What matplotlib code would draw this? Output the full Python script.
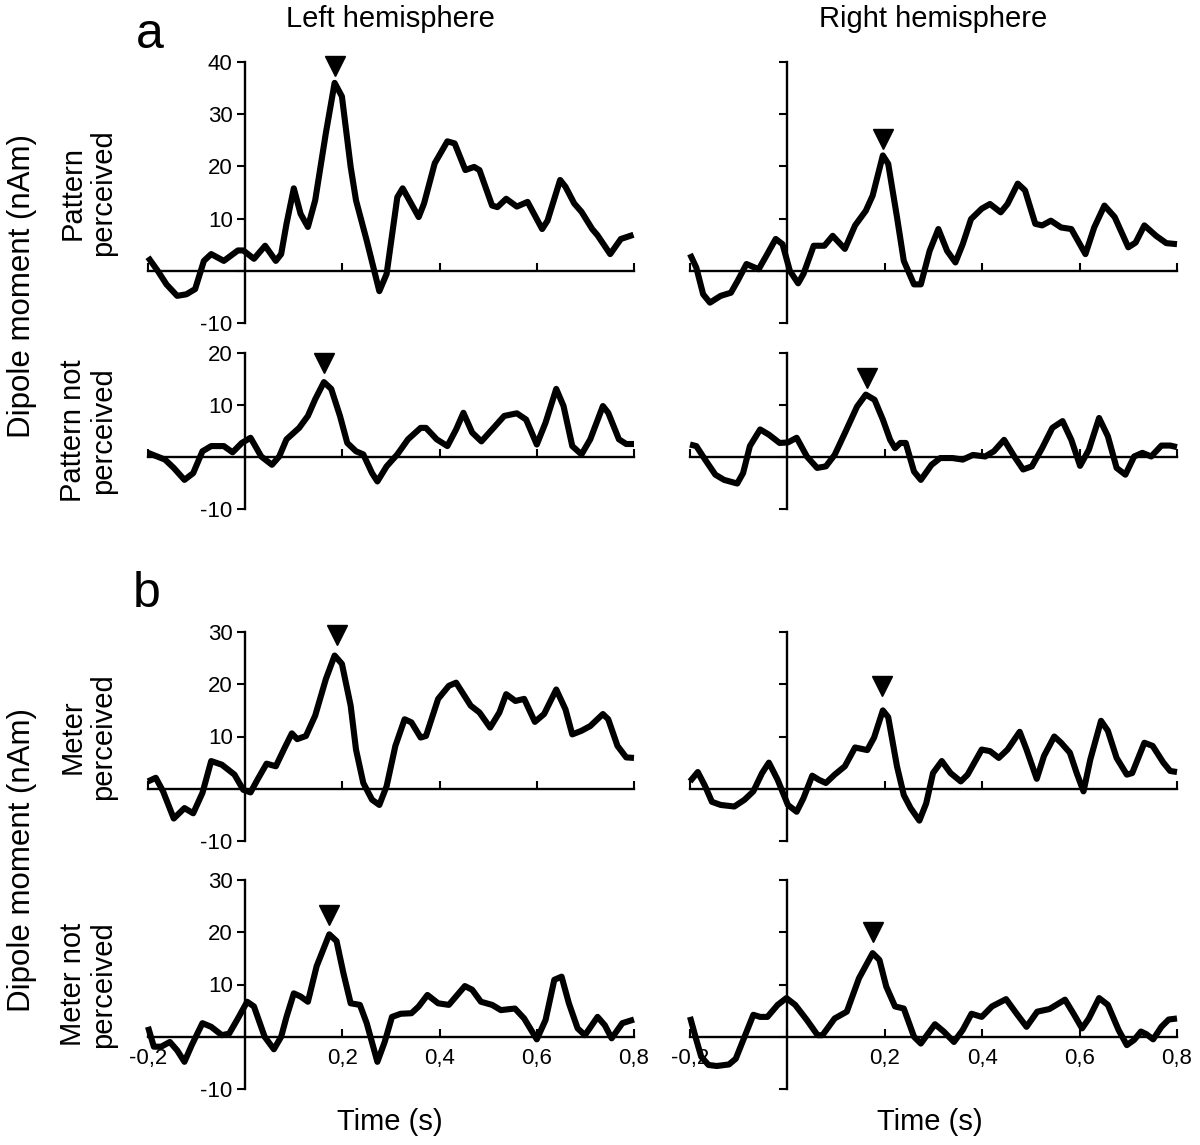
import matplotlib
matplotlib.use('Agg')
import matplotlib.pyplot as plt

plt.rcParams['font.family'] = ['Liberation Sans', 'DejaVu Sans']

# ---------------- data (time in s, dipole moment in nAm) ----------------
pp_left_t = [-0.2, -0.18, -0.162, -0.14, -0.121, -0.103, -0.085, -0.07, -0.044, -0.015, -0.004, 0.018,
             0.041, 0.063, 0.074, 0.085, 0.1, 0.114, 0.129, 0.144, 0.166, 0.184, 0.199, 0.217, 0.228,
             0.25, 0.276, 0.291, 0.313, 0.324, 0.357, 0.368, 0.39, 0.416, 0.431, 0.453, 0.471, 0.482,
             0.508, 0.519, 0.537, 0.559, 0.581, 0.611, 0.622, 0.648, 0.659, 0.677, 0.692, 0.714, 0.725,
             0.751, 0.773, 0.799]
pp_left_v = [2.6, 0.0, -2.6, -4.8, -4.5, -3.5, 1.9, 3.2, 1.9, 3.9, 3.9, 2.3,
             4.8, 1.9, 3.2, 9.0, 15.8, 10.9, 8.4, 13.5, 26.4, 36.0, 33.4, 19.9, 13.5,
             5.8, -3.9, -0.6, 14.1, 15.8, 10.3, 12.9, 20.6, 24.8, 24.4, 19.3, 19.9, 19.3,
             12.5, 12.2, 13.8, 12.3, 13.2, 8.0, 9.6, 17.4, 16.1, 12.9, 11.3, 8.0, 6.8,
             3.2, 6.1, 6.9]

pp_right_t = [-0.2, -0.187, -0.173, -0.159, -0.137, -0.116, -0.102, -0.084, -0.059, -0.045, -0.024,
              -0.01, 0.005, 0.022, 0.033, 0.054, 0.076, 0.093, 0.118, 0.139, 0.161, 0.175, 0.196,
              0.207, 0.225, 0.239, 0.26, 0.274, 0.292, 0.31, 0.328, 0.345, 0.36, 0.377, 0.399, 0.416,
              0.438, 0.452, 0.473, 0.488, 0.509, 0.523, 0.541, 0.562, 0.583, 0.612, 0.63, 0.651,
              0.672, 0.7, 0.715, 0.733, 0.757, 0.778, 0.8]
pp_right_v = [3.2, 0.6, -4.5, -6.1, -4.8, -4.2, -1.9, 1.3, 0.3, 2.6, 6.1,
              5.1, 0.0, -2.4, -0.6, 4.8, 4.8, 6.7, 4.2, 8.7, 11.5, 14.4, 22.1,
              20.5, 10.3, 1.9, -2.6, -2.6, 3.8, 8.0, 3.8, 1.6, 5.1, 9.9, 11.9, 12.8,
              11.2, 12.8, 16.7, 15.4, 9.0, 8.7, 9.6, 8.3, 8.0, 3.2, 8.3, 12.5,
              10.3, 4.5, 5.4, 8.7, 6.7, 5.3, 5.1]

pn_left_t = [-0.2, -0.165, -0.147, -0.125, -0.107, -0.088, -0.07, -0.044, -0.026, -0.007, 0.011,
             0.033, 0.055, 0.07, 0.085, 0.111, 0.129, 0.144, 0.162, 0.177, 0.195, 0.21, 0.228,
             0.243, 0.261, 0.272, 0.291, 0.313, 0.335, 0.361, 0.372, 0.394, 0.416, 0.434, 0.449,
             0.467, 0.486, 0.511, 0.533, 0.559, 0.578, 0.6, 0.618, 0.64, 0.655, 0.673, 0.692, 0.71,
             0.736, 0.747, 0.769, 0.784, 0.8]
pn_left_v = [0.8, -0.5, -2.1, -4.4, -3.1, 1.1, 2.1, 2.1, 0.9, 2.7, 3.7,
             0.1, -1.5, 0.1, 3.4, 5.6, 7.9, 11.1, 14.4, 13.1, 7.9, 2.7, 1.1,
             0.5, -3.1, -4.7, -1.8, 0.5, 3.4, 5.6, 5.6, 3.4, 2.1, 5.3, 8.5,
             4.7, 3.0, 5.6, 7.9, 8.4, 7.2, 2.4, 6.6, 13.1, 9.8, 2.1, 0.5, 3.4,
             9.8, 8.5, 3.4, 2.5, 2.5]

pn_right_t = [-0.2, -0.187, -0.169, -0.148, -0.13, -0.103, -0.091, -0.077, -0.056, -0.038, -0.016,
              0.001, 0.019, 0.04, 0.061, 0.079, 0.097, 0.118, 0.143, 0.161, 0.179, 0.196, 0.211,
              0.221, 0.232, 0.243, 0.26, 0.274, 0.296, 0.314, 0.339, 0.36, 0.381, 0.406, 0.424,
              0.445, 0.466, 0.484, 0.502, 0.523, 0.544, 0.565, 0.583, 0.601, 0.619, 0.64, 0.658,
              0.676, 0.694, 0.712, 0.729, 0.747, 0.768, 0.786, 0.8]
pn_right_v = [2.4, 2.1, -0.5, -3.4, -4.4, -5.1, -3.1, 2.1, 5.3, 4.3, 2.7,
              2.8, 3.7, 0.1, -2.1, -1.8, 0.4, 4.6, 9.7, 12.0, 11.0, 7.2, 3.3,
              1.7, 2.7, 2.7, -2.8, -4.4, -1.5, -0.2, -0.2, -0.5, 0.4, 0.1, 1.1,
              3.3, 0.1, -2.4, -1.8, 1.7, 5.6, 6.9, 3.3, -1.7, 1.4, 7.5, 4.0,
              -2.1, -3.4, 0.1, 0.8, 0.1, 2.2, 2.2, 1.9]

mp_left_t = [-0.2, -0.184, -0.169, -0.147, -0.125, -0.107, -0.088, -0.07, -0.048, -0.022, -0.004,
             0.011, 0.025, 0.044, 0.063, 0.081, 0.096, 0.107, 0.125, 0.144, 0.166, 0.184, 0.199,
             0.217, 0.228, 0.243, 0.261, 0.276, 0.291, 0.309, 0.328, 0.342, 0.361, 0.372, 0.397,
             0.419, 0.434, 0.464, 0.482, 0.504, 0.523, 0.537, 0.556, 0.574, 0.596, 0.615, 0.64,
             0.659, 0.673, 0.692, 0.71, 0.736, 0.747, 0.766, 0.784, 0.8]
mp_left_v = [1.4, 2.1, -0.5, -5.7, -3.7, -4.7, -0.8, 5.3, 4.6, 2.7, -0.2,
             -0.7, 1.7, 4.8, 4.3, 7.8, 10.6, 9.5, 10.1, 14.0, 21.0, 25.5, 23.9,
             15.9, 7.5, 1.1, -2.1, -3.1, 0.5, 8.2, 13.3, 12.7, 9.8, 10.1, 17.2,
             19.7, 20.3, 15.9, 14.6, 11.7, 14.6, 18.1, 16.8, 17.2, 12.8, 14.3, 19.0,
             15.2, 10.4, 11.1, 12.0, 14.3, 13.3, 8.2, 6.0, 5.9]

mp_right_t = [-0.2, -0.184, -0.169, -0.155, -0.137, -0.109, -0.088, -0.07, -0.052, -0.038, -0.02,
              0.001, 0.019, 0.033, 0.051, 0.065, 0.079, 0.097, 0.118, 0.139, 0.164, 0.178, 0.196,
              0.207, 0.225, 0.239, 0.253, 0.271, 0.285, 0.299, 0.317, 0.335, 0.356, 0.37, 0.399,
              0.416, 0.434, 0.452, 0.477, 0.491, 0.512, 0.527, 0.548, 0.562, 0.58, 0.594, 0.608,
              0.622, 0.644, 0.658, 0.676, 0.697, 0.708, 0.733, 0.75, 0.772, 0.786, 0.8]
mp_right_v = [1.4, 3.2, 0.5, -2.5, -3.1, -3.4, -2.1, -0.5, 3.0, 5.0, 1.7,
              -3.1, -4.4, -1.8, 2.5, 1.7, 1.1, 2.7, 4.3, 7.9, 7.4, 9.8, 15.0,
              13.7, 4.3, -1.2, -3.7, -6.1, -2.8, 3.0, 5.3, 3.0, 1.4, 2.7, 7.5,
              7.2, 5.9, 7.5, 10.9, 7.5, 1.9, 6.3, 10.0, 8.8, 6.9, 3.0, -0.5,
              5.6, 13.0, 11.1, 5.9, 2.7, 3.0, 8.8, 8.2, 5.0, 3.4, 3.2]

mn_left_t = [-0.2, -0.188, -0.173, -0.155, -0.14, -0.125, -0.11, -0.088, -0.07, -0.048, -0.033,
             -0.015, 0.004, 0.018, 0.04, 0.059, 0.074, 0.085, 0.1, 0.114, 0.129, 0.147, 0.173,
             0.188, 0.202, 0.217, 0.236, 0.25, 0.272, 0.287, 0.302, 0.32, 0.342, 0.357, 0.375,
             0.397, 0.419, 0.452, 0.467, 0.485, 0.508, 0.526, 0.555, 0.574, 0.6, 0.618, 0.636,
             0.651, 0.666, 0.684, 0.699, 0.725, 0.74, 0.754, 0.776, 0.8]
mn_left_v = [1.9, -1.9, -1.9, -1.0, -2.6, -4.8, -1.6, 2.6, 1.9, 0.3, 0.6,
             3.5, 6.7, 5.8, 0.0, -2.4, 0.0, 3.8, 8.3, 7.7, 6.7, 13.5, 19.6,
             18.3, 12.2, 6.4, 6.1, 2.6, -4.8, -1.0, 3.8, 4.4, 4.5, 5.8, 8.0,
             6.4, 6.1, 9.7, 9.0, 6.7, 6.1, 5.1, 5.4, 3.5, -0.5, 3.2, 10.9,
             11.5, 6.4, 1.6, 0.3, 3.8, 2.2, -0.3, 2.6, 3.3]

mn_right_t = [-0.2, -0.187, -0.177, -0.162, -0.145, -0.12, -0.106, -0.088, -0.07, -0.056, -0.041,
              -0.02, -0.002, 0.016, 0.04, 0.062, 0.072, 0.097, 0.122, 0.147, 0.175, 0.189, 0.203,
              0.221, 0.239, 0.26, 0.274, 0.303, 0.321, 0.342, 0.36, 0.378, 0.399, 0.42, 0.449,
              0.47, 0.491, 0.513, 0.538, 0.57, 0.587, 0.605, 0.619, 0.64, 0.658, 0.68, 0.697,
              0.712, 0.726, 0.737, 0.751, 0.768, 0.783, 0.8]
mn_right_v = [3.8, -0.6, -3.8, -5.4, -5.6, -5.3, -4.2, 0.0, 4.2, 3.8, 3.8,
              6.1, 7.4, 6.1, 3.2, 0.3, 0.3, 3.5, 4.8, 11.2, 16.0, 14.7, 9.6,
              5.8, 5.4, 0.0, -1.3, 2.4, 1.0, -1.0, 1.3, 4.4, 3.8, 5.8, 7.2,
              4.5, 1.9, 4.8, 5.3, 7.1, 4.5, 1.6, 3.5, 7.4, 6.1, 1.3, -1.6,
              -0.6, 1.0, 0.5, -0.5, 1.9, 3.3, 3.5]

# peak markers (time, level of the marker)
peak_t = {'pp_l': 0.185, 'pp_r': 0.197, 'pn_l': 0.162, 'pn_r': 0.163,
          'mp_l': 0.188, 'mp_r': 0.195, 'mn_l': 0.173, 'mn_r': 0.176}
peak_y = {'pp_l': 39.3, 'pp_r': 25.3, 'pn_l': 18.0, 'pn_r': 15.1,
          'mp_l': 29.4, 'mp_r': 19.6, 'mn_l': 23.3, 'mn_r': 20.0}

row_labels = ['Pattern\nperceived', 'Pattern not\nperceived', 'Meter\nperceived', 'Meter not\nperceived']
x_ticks = [-0.2, 0.0, 0.2, 0.4, 0.6, 0.8]
x_ticklabels = ['-0,2', '', '0,2', '0,4', '0,6', '0,8']

# ---------------- layout (pixel geometry of the reference) ----------------
W, H = 1200, 1145
fig = plt.figure(figsize=(W / 100, H / 100), dpi=100)

cols = [(148, 634), (690, 1177)]
rows = [(62, 323, -10, 40), (353, 509, -10, 20), (632, 841, -10, 30), (880, 1089, -10, 30)]

series = [
    [(pp_left_t, pp_left_v, 'pp_l'), (pp_right_t, pp_right_v, 'pp_r')],
    [(pn_left_t, pn_left_v, 'pn_l'), (pn_right_t, pn_right_v, 'pn_r')],
    [(mp_left_t, mp_left_v, 'mp_l'), (mp_right_t, mp_right_v, 'mp_r')],
    [(mn_left_t, mn_left_v, 'mn_l'), (mn_right_t, mn_right_v, 'mn_r')],
]

for r, (top, bot, ylo, yhi) in enumerate(rows):
    for c, (x0, x1) in enumerate(cols):
        ax = fig.add_axes([x0 / W, 1 - bot / H, (x1 - x0) / W, (bot - top) / H])
        t, v, key = series[r][c]
        ax.plot(t, v, color='black', lw=4.4, solid_joinstyle='round',
                solid_capstyle='butt', clip_on=False, zorder=4)
        ax.plot([peak_t[key]], [peak_y[key]], marker='v', ms=15, color='black',
                linestyle='none', clip_on=False, zorder=5)
        ax.set_xlim(-0.2, 0.8)
        ax.set_ylim(ylo, yhi)
        for s in ('top', 'right'):
            ax.spines[s].set_visible(False)
        ax.spines['left'].set_position(('data', 0))
        ax.spines['bottom'].set_position(('data', 0))
        for s in ('left', 'bottom'):
            ax.spines[s].set_linewidth(1.7)
        ax.set_facecolor('none')
        ax.set_xticks(x_ticks)
        if r == 3:
            ax.set_xticklabels(x_ticklabels)
        else:
            ax.set_xticklabels([''] * len(x_ticks))
        yt = list(range(ylo, yhi + 1, 10))
        ax.set_yticks(yt)
        if c == 0:
            ax.set_yticklabels(['' if y == 0 else str(y) for y in yt])
        else:
            ax.set_yticklabels([''] * len(yt))
        ax.tick_params(axis='x', direction='in', length=6, width=1.5, labelsize=16, pad=8)
        ax.tick_params(axis='y', direction='out', length=6, width=1.5, labelsize=16, pad=3)

        if c == 0:
            fig.text(88 / W, 1 - ((top + bot) / 2) / H, row_labels[r], rotation=90,
                     ha='center', va='center', fontsize=21, linespacing=1.1,
                     multialignment='center')

# column titles
fig.text(390 / W, 1 - 27 / H, 'Left hemisphere', ha='center', va='baseline', fontsize=21)
fig.text(933 / W, 1 - 27 / H, 'Right hemisphere', ha='center', va='baseline', fontsize=21)
fig.text(390 / W, 1 - 1130 / H, 'Time (s)', ha='center', va='baseline', fontsize=21)
fig.text(930 / W, 1 - 1130 / H, 'Time (s)', ha='center', va='baseline', fontsize=21)

# y labels
fig.text(22 / W, 1 - 286 / H, 'Dipole moment (nAm)', rotation=90, ha='center', va='center', fontsize=22.5)
fig.text(22 / W, 1 - 860 / H, 'Dipole moment (nAm)', rotation=90, ha='center', va='center', fontsize=22.5)

# panel letters
fig.text(136 / W, 1 - 48 / H, 'a', ha='left', va='baseline', fontsize=36)
fig.text(133 / W, 1 - 607 / H, 'b', ha='left', va='baseline', fontsize=36)

fig.savefig('out.png', dpi=100, facecolor='white')
